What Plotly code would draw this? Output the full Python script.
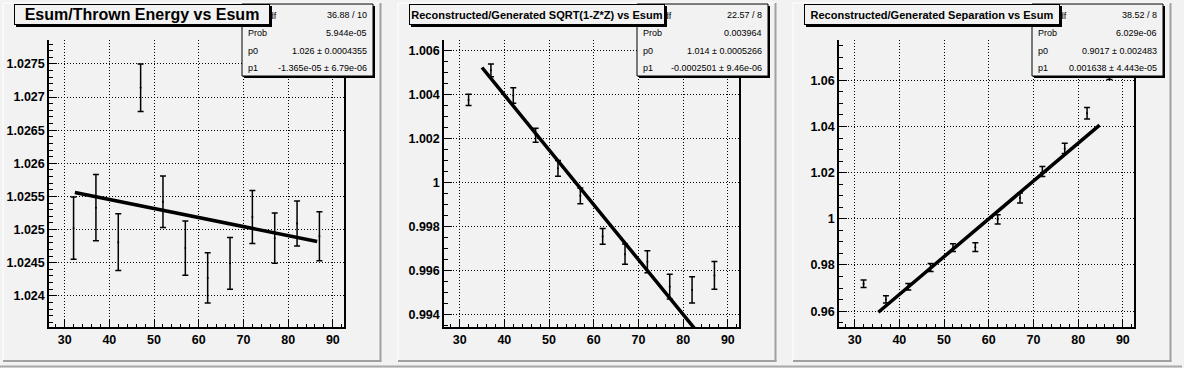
import numpy as np
import plotly.graph_objects as go

# ---------------- data ----------------
esum = [32, 37, 42, 47, 52, 57, 62, 67, 72, 77, 82, 87]

energy_ratio = [1.02502, 1.02533, 1.02481, 1.02714, 1.02542, 1.02472,
                1.02427, 1.02449, 1.02519, 1.02487, 1.02509, 1.02490]
energy_err = [0.00047, 0.00050, 0.00043, 0.00036, 0.00039, 0.00041,
              0.00038, 0.00039, 0.00040, 0.00038, 0.00034, 0.00037]

sqrt_ratio = [1.00377, 1.00512, 1.00397, 1.00216, 1.00065, 0.99940,
              0.99755, 0.99674, 0.99639, 0.99526, 0.99511, 0.99577]
sqrt_err = [0.00026, 0.00029, 0.00035, 0.00032, 0.00036, 0.00036,
            0.00036, 0.00046, 0.00050, 0.00056, 0.00060, 0.00063]

sep_ratio = [0.9719, 0.9651, 0.9706, 0.9789, 0.9875, 0.9877,
             0.9998, 1.0090, 1.0205, 1.0305, 1.0457, 1.0637]
sep_err = [0.0016, 0.0016, 0.0014, 0.0017, 0.0017, 0.0019,
           0.0020, 0.0022, 0.0022, 0.0022, 0.0025, 0.0034]

titles = ["Esum/Thrown Energy vs Esum",
          "Reconstructed/Generated SQRT(1-Z*Z) vs Esum",
          "Reconstructed/Generated Separation vs Esum"]

fit_p0 = [1.026, 1.014, 0.9017]
fit_p1 = [-1.365e-05, -0.0002501, 0.001638]
fit_lo = [32.3, 35.0, 35.3]
fit_hi = [86.5, 85.0, 84.8]

stat_chi2 = ["36.88 / 10", "22.57 / 8", "38.52 / 8"]
stat_prob = ["5.944e-05", "0.003964", "6.029e-06"]
stat_p0 = ["1.026 \u00b1 0.0004355", "1.014 \u00b1 0.0005266", "0.9017 \u00b1 0.002483"]
stat_p1 = ["-1.365e-05 \u00b1 6.79e-06", "-0.0002501 \u00b1 9.46e-06", "0.001638 \u00b1 4.443e-05"]

y_dtick = [0.0005, 0.002, 0.02]
y_minor = [0.0001, 0.0005, 0.005]

series = [(energy_ratio, energy_err), (sqrt_ratio, sqrt_err), (sep_ratio, sep_err)]

# ---------------- layout helpers ----------------
W, H = 1184, 368
BG = "#f2f2f2"
FONT = "Liberation Sans, Arial, Helvetica, sans-serif"


def px(x):
    return x / W


def py(y):
    return 1 - y / H


fig = go.Figure()
shapes = []
annotations = []

# overall canvas lines
shapes.append(dict(type="line", xref="paper", yref="paper", x0=0, x1=px(1182),
                   y0=py(366.5), y1=py(366.5), line=dict(color="#a8a8a8", width=2), layer="above"))

for i in range(3):
    ox = 395 * i
    ax = "" if i == 0 else str(i + 1)
    yv, ye = series[i]

    # pad border (bevel)
    shapes.append(dict(type="line", xref="paper", yref="paper", x0=px(ox + 3), x1=px(ox + 3),
                       y0=py(3), y1=py(361), line=dict(color="#ffffff", width=1), layer="above"))
    shapes.append(dict(type="line", xref="paper", yref="paper", x0=px(ox + 3), x1=px(ox + 381),
                       y0=py(3), y1=py(3), line=dict(color="#ffffff", width=1), layer="above"))
    shapes.append(dict(type="line", xref="paper", yref="paper", x0=px(ox + 380.5), x1=px(ox + 380.5),
                       y0=py(3), y1=py(361.5), line=dict(color="#a0a0a0", width=2), layer="above"))
    shapes.append(dict(type="line", xref="paper", yref="paper", x0=px(ox + 3), x1=px(ox + 381.5),
                       y0=py(361), y1=py(361), line=dict(color="#a0a0a0", width=2), layer="above"))

    # axis ranges the way ROOT auto-scales a TGraphErrors (10% padding)
    lo = min(v - e for v, e in zip(yv, ye))
    hi = max(v + e for v, e in zip(yv, ye))
    pad = 0.1 * (hi - lo)
    xlo, xhi = min(esum), max(esum)
    xpad = 0.1 * (xhi - xlo)

    tickfont = dict(family=FONT, size=12.5, color="black", weight="bold")
    fig.update_layout(**{
        "xaxis" + ax: dict(domain=[px(49 + ox), px(344 + ox)], anchor="y" + ax,
                           range=[xlo - xpad, xhi + xpad], dtick=10, tick0=0,
                           ticks="inside", ticklen=7, tickwidth=1, tickcolor="black",
                           minor=dict(dtick=2, ticks="inside", ticklen=3.5, tickcolor="black",
                                      showgrid=False),
                           showline=True, linecolor="black", linewidth=1.5, mirror=False,
                           showgrid=True, gridcolor="black", gridwidth=1, griddash="1px,2px",
                           zeroline=False, tickfont=tickfont, fixedrange=True),
        "yaxis" + ax: dict(domain=[py(327), py(40)], anchor="x" + ax,
                           range=[lo - pad, hi + pad], dtick=y_dtick[i], tick0=1,
                           ticks="inside", ticklen=8, tickwidth=1, tickcolor="black",
                           minor=dict(dtick=y_minor[i], ticks="inside", ticklen=4,
                                      tickcolor="black", showgrid=False),
                           showline=True, linecolor="black", linewidth=1.5, mirror=True,
                           showgrid=True, gridcolor="black", gridwidth=1, griddash="1px,2px",
                           zeroline=False, tickfont=tickfont, fixedrange=True),
    })

    # data with error bars
    fig.add_trace(go.Scatter(
        x=esum, y=yv, mode="markers",
        marker=dict(color="black", size=2),
        error_y=dict(type="data", array=ye, visible=True, color="black",
                     thickness=1.5, width=3),
        xaxis="x" + ax, yaxis="y" + ax, showlegend=False, hoverinfo="x+y"))

    # fit line
    fx = np.linspace(fit_lo[i], fit_hi[i], 200)
    fy = fit_p0[i] + fit_p1[i] * fx
    fig.add_trace(go.Scatter(
        x=fx, y=fy, mode="lines", line=dict(color="black", width=3.5),
        xaxis="x" + ax, yaxis="y" + ax, showlegend=False, hoverinfo="skip"))

    # stats box
    sx0, sx1, sy0, sy1 = 242 + ox, 373 + ox, 4, 76
    shapes.append(dict(type="rect", xref="paper", yref="paper",
                       x0=px(sx0 + 2), x1=px(sx1 + 2), y0=py(sy0 + 2), y1=py(sy1 + 2),
                       fillcolor="black", line=dict(width=0), layer="above"))
    shapes.append(dict(type="rect", xref="paper", yref="paper",
                       x0=px(sx0), x1=px(sx1), y0=py(sy0), y1=py(sy1),
                       fillcolor=BG, line=dict(color="black", width=1), layer="above"))
    labels = ["\u03c7<sup>2</sup> / ndf", "Prob", "p0", "p1"]
    values = [stat_chi2[i], stat_prob[i], stat_p0[i], stat_p1[i]]
    for k in range(4):
        yc = 15 + 17.8 * k
        annotations.append(dict(xref="paper", yref="paper", x=px(sx0 + 4), y=py(yc),
                                xanchor="left", yanchor="middle", showarrow=False,
                                text=labels[k], font=dict(family=FONT, size=9, color="black")))
        annotations.append(dict(xref="paper", yref="paper", x=px(sx1 - 4), y=py(yc),
                                xanchor="right", yanchor="middle", showarrow=False,
                                text=values[k], font=dict(family=FONT, size=9, color="black")))

    # title box shadow
    tx0, tx1, ty0, ty1 = 14 + ox, 270 + ox, 4, 25
    shapes.append(dict(type="rect", xref="paper", yref="paper",
                       x0=px(tx0 + 2), x1=px(tx1 + 2), y0=py(ty0 + 2), y1=py(ty1 + 2),
                       fillcolor="black", line=dict(width=0), layer="above"))

for i in range(3):
    ox = 395 * i
    tx0, tx1, ty0, ty1 = 14 + ox, 270 + ox, 4, 25
    annotations.append(dict(xref="paper", yref="paper", x=px((tx0 + tx1) / 2), y=py((ty0 + ty1) / 2),
                            xanchor="center", yanchor="middle", showarrow=False,
                            text=titles[i], width=tx1 - tx0 - 2, height=ty1 - ty0 - 2,
                            bgcolor=BG, bordercolor="black", borderwidth=1, borderpad=0,
                            align="center", valign="middle",
                            font=dict(family=FONT, size=16 if i == 0 else 11,
                                      color="black", weight="bold")))

fig.update_layout(width=W, height=H, margin=dict(l=0, r=0, t=0, b=0),
                  paper_bgcolor=BG, plot_bgcolor=BG, shapes=shapes,
                  annotations=annotations, showlegend=False)

fig.write_html("out.html", config={"displayModeBar": False},
               post_script="document.body.style.margin='0px';document.body.style.overflow='hidden';")
